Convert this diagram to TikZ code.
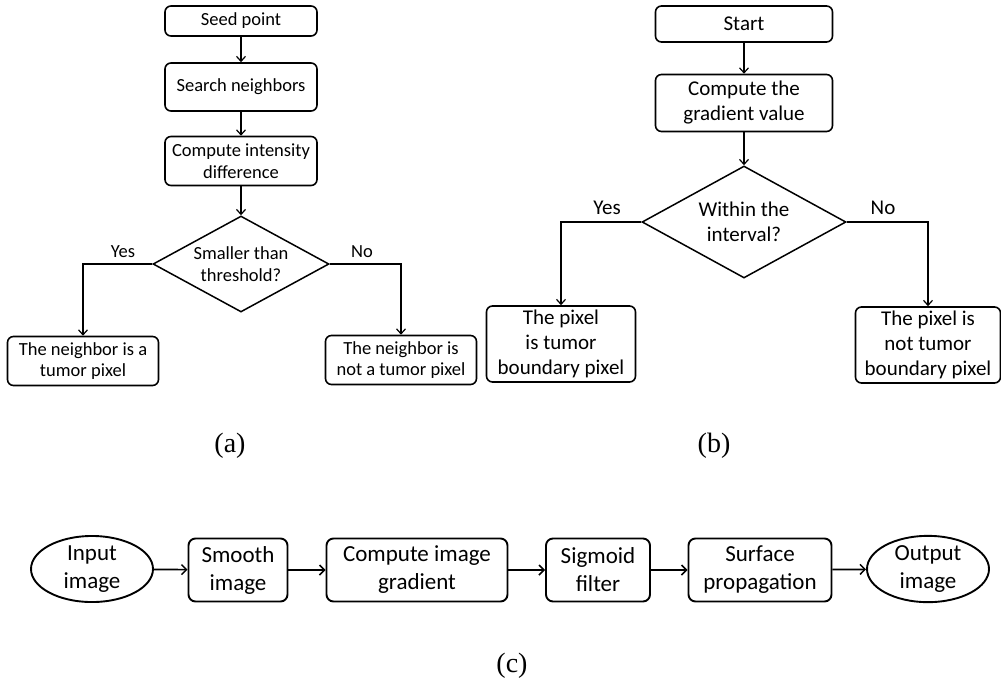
\documentclass[tikz,border=0pt]{standalone}
\usepackage{fontspec}
\setmainfont{Carlito}
\newfontfamily\tnr{Liberation Serif}
\usetikzlibrary{shapes.geometric,arrows.meta}
\begin{document}
\begin{tikzpicture}[x=1pt,y=-1pt,
  fa/.style={font=\fontsize{18.5}{21.7}\selectfont},
  fb/.style={font=\fontsize{21}{25}\selectfont},
  fc/.style={font=\fontsize{23}{28}\selectfont},
  boxab/.style={draw,line width=1.6pt,rounded corners=6pt,align=center,inner sep=0pt},
  boxc/.style={draw,line width=1.9pt,rounded corners=7pt,align=center,inner sep=0pt,fc},
  ellc/.style={draw,ellipse,line width=1.9pt,align=center,inner sep=0pt,fc},
  dia/.style={draw,diamond,line width=1.5pt,align=center,inner sep=0pt},
  arr/.style={line width=1.2pt,-{Straight Barb[length=5pt,width=9pt,line width=1.2pt]}},
  arrc/.style={line width=1.7pt,-{Straight Barb[length=5pt,width=10pt,line width=1.5pt]}},
  lbl/.style={inner sep=0pt},
  captext/.style={font=\tnr\fontsize{28}{32}\selectfont,inner sep=0pt}
]
\useasboundingbox (0,0) rectangle (1001,681);

% ---------- (a) ----------
\node[boxab,fa,minimum width=152pt,minimum height=30pt] (aseed) at (241,21) {Seed point};
\node[boxab,fa,minimum width=152pt,minimum height=48pt] (asearch) at (241,87) {Search neighbors};
\node[boxab,fa,minimum width=152pt,minimum height=49pt] (acomp) at (241,161) {Compute intensity\\difference};
\node[dia,fa,minimum width=176pt,minimum height=96pt,aspect=1.83] (adia) at (241,264) {Smaller than\\threshold?};
\node[boxab,fa,minimum width=151pt,minimum height=49pt] (ayes) at (83,361) {The neighbor is a\\tumor pixel};
\node[boxab,fa,minimum width=151pt,minimum height=49pt] (ano) at (401,360) {The neighbor is\\not a tumor pixel};
\node[lbl,fa] (ayeslbl) at (123,252) {Yes};
\node[lbl,fa] (anolbl) at (362,252) {No};
\draw[arr] (aseed) -- (asearch);
\draw[arr] (asearch) -- (acomp);
\draw[arr] (acomp) -- (adia);
\draw[arr] (adia.west) -| (ayes.north);
\draw[arr] (adia.east) -| (ano.north);
\node[captext] (capa) at (230,446) {(a)};

% ---------- (b) ----------
\node[boxab,fb,minimum width=177pt,minimum height=36pt] (bstart) at (744,24) {Start};
\node[boxab,fb,minimum width=177pt,minimum height=57pt] (bgrad) at (744,103) {Compute the\\gradient value};
\node[dia,fb,minimum width=204pt,minimum height=112pt,aspect=1.82] (bdia) at (744,222) {Within the\\interval?};
\node[boxab,fb,minimum width=149pt,minimum height=76pt] (byes) at (561,344) {The pixel\\is tumor\\boundary pixel};
\node[boxab,fb,minimum width=145pt,minimum height=76pt] (bno) at (928,345) {The pixel is\\not tumor\\boundary pixel};
\node[lbl,fb] (byeslbl) at (607,208) {Yes};
\node[lbl,fb] (bnolbl) at (883,208) {No};
\draw[arr] (bstart) -- (bgrad);
\draw[arr] (bgrad) -- (bdia);
\draw[arr] (bdia.west) -| (byes.north);
\draw[arr] (bdia.east) -| (bno.north);
\node[captext] (capb) at (714,446) {(b)};

% ---------- (c) ----------
\node[ellc,minimum width=122pt,minimum height=65pt] (cin) at (92,569) {Input\\image};
\node[boxc,minimum width=99pt,minimum height=63pt] (csmooth) at (238,570) {Smooth\\image};
\node[boxc,minimum width=181pt,minimum height=63pt] (cgrad) at (417,570) {Compute image\\gradient};
\node[boxc,minimum width=104pt,minimum height=63pt] (csig) at (598,570) {Sigmoid\\filter};
\node[boxc,minimum width=143pt,minimum height=63pt] (csurf) at (760,570) {Surface\\propagation};
\node[ellc,minimum width=122pt,minimum height=65pt] (cout) at (928,569) {Output\\image};
\draw[arrc] (cin) -- (csmooth);
\draw[arrc] (csmooth) -- (cgrad);
\draw[arrc] (cgrad) -- (csig);
\draw[arrc] (csig) -- (csurf);
\draw[arrc] (csurf) -- (cout);
\node[captext] (capc) at (512,666) {(c)};
\end{tikzpicture}
\end{document}
